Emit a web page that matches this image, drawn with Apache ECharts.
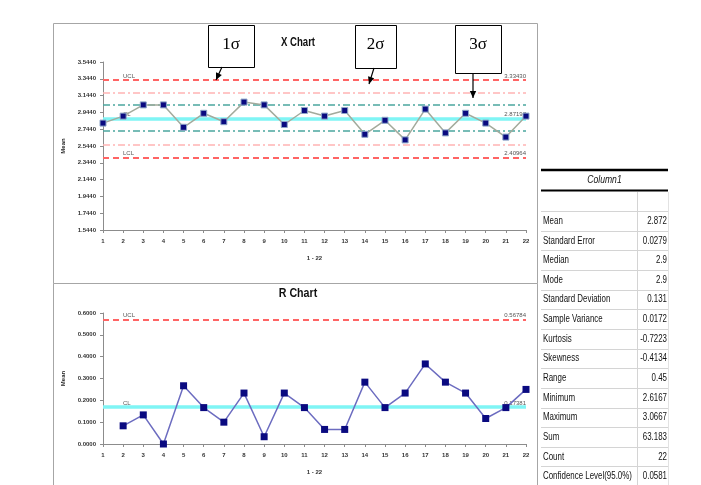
<!DOCTYPE html>
<html>
<head>
<meta charset="utf-8">
<script src="https://cdn.jsdelivr.net/npm/echarts@6/dist/echarts.min.js"></script>
<style>
  html, body { margin: 0; padding: 0; background: #ffffff; }
  #chart { width: 701px; height: 485px; }
</style>
</head>
<body>
<div id="chart"></div>
<script>
// Subgroup numbers on the horizontal axis
const samples = ['1','2','3','4','5','6','7','8','9','10','11','12','13','14','15','16','17','18','19','20','21','22'];

// Subgroup means (X chart)
const xMeans = [2.8167, 2.9, 3.0333, 3.0333, 2.7667, 2.9333, 2.8333, 3.0667, 3.0333, 2.8, 2.9667,
                2.9, 2.9667, 2.6833, 2.85, 2.6167, 2.9833, 2.7, 2.9333, 2.8167, 2.65, 2.9];

// Moving ranges (R chart); the first subgroup has none
const ranges = [null, 0.0833, 0.1333, 0, 0.2667, 0.1667, 0.1, 0.2333, 0.0333, 0.2333, 0.1667,
                0.0667, 0.0667, 0.2833, 0.1667, 0.2333, 0.3667, 0.2833, 0.2333, 0.1167, 0.1667, 0.25];

// Control limits
const xUCL = 3.33430, xCL = 2.87197, xLCL = 2.40964;
const rUCL = 0.56784, rCL = 0.17381;

// Value axis ranges
const xAxisMin = 1.544, xAxisMax = 3.544, xAxisStep = 0.2;
const rAxisMin = 0, rAxisMax = 0.6, rAxisStep = 0.1;

// Descriptive statistics table
const statHeader = 'Column1';
const statNames = ['Mean', 'Standard Error', 'Median', 'Mode', 'Standard Deviation', 'Sample Variance',
                   'Kurtosis', 'Skewness', 'Range', 'Minimum', 'Maximum', 'Sum', 'Count', 'Confidence Level(95.0%)'];
const statValues = ['2.872', '0.0279', '2.9', '2.9', '0.131', '0.0172', '-0.7223', '-0.4134', '0.45',
                    '2.6167', '3.0667', '63.183', '22', '0.0581'];

// Zone callouts
const zoneNotes = ['1σ', '2σ', '3σ'];

const sigma = (xUCL - xCL) / 3;

const chart = echarts.init(document.getElementById('chart'), null, { renderer: 'canvas' });

const tickFont = { fontSize: 6, color: '#333', fontWeight: 'bold', fontFamily: 'Liberation Sans' };

function limitLine(value, color, type, width) {
  return { yAxis: value, lineStyle: { color: color, type: type, width: width }, label: { show: false } };
}
function limitLabel(value, text, pos) {
  return {
    yAxis: value,
    lineStyle: { color: 'rgba(0,0,0,0)', width: 1 },
    label: {
      show: true, formatter: text, position: pos, distance: pos === 'insideStartTop' ? [20, 1] : [0, 1],
      fontSize: 6, color: '#555', fontFamily: 'Liberation Sans'
    }
  };
}

function xAxisCfg(gridIndex) {
  return {
    type: 'category', gridIndex: gridIndex, data: samples, boundaryGap: false,
    name: '1 - 22', nameLocation: 'middle', nameGap: 25,
    nameTextStyle: { fontSize: 6, color: '#333', fontWeight: 'bold', fontFamily: 'Liberation Sans' },
    axisLine: { lineStyle: { color: '#8c8c8c', width: 1 } },
    axisTick: { show: true, interval: 0, length: 3, alignWithLabel: true, lineStyle: { color: '#8c8c8c' } },
    axisLabel: Object.assign({ interval: 0, margin: 8 }, tickFont),
    splitLine: { show: false }
  };
}
function yAxisCfg(gridIndex, min, max, step) {
  return {
    type: 'value', gridIndex: gridIndex, min: min, max: max, interval: step,
    name: 'Mean', nameLocation: 'middle', nameGap: 31, nameRotate: 90,
    nameTextStyle: { fontSize: 6, color: '#222', fontWeight: 'bold', fontFamily: 'Liberation Sans' },
    axisLine: { show: true, lineStyle: { color: '#8c8c8c', width: 1 } },
    axisTick: { show: true, length: 3, lineStyle: { color: '#8c8c8c' } },
    axisLabel: Object.assign({ margin: 7, formatter: v => v.toFixed(4) }, tickFont),
    splitLine: { show: false }
  };
}

// condensed sans text (narrow face drawn by horizontal scaling)
function narrowText(x, y, text, opts) {
  return {
    type: 'text', x: x, y: y, scaleX: opts.scale || 0.8,
    style: {
      text: text, font: (opts.font || '11px "Liberation Sans"'), fill: opts.fill || '#111',
      textAlign: opts.align || 'left', textVerticalAlign: 'middle'
    },
    z: opts.z || 20
  };
}

// Callout boxes with arrows
const boxes = [
  { x: 208, y: 25, w: 46, h: 42, ax1: 222, ay1: 67, ax2: 216, ay2: 80 },
  { x: 355, y: 25, w: 41, h: 43, ax1: 374, ay1: 68, ax2: 369, ay2: 84 },
  { x: 455, y: 25, w: 46, h: 48, ax1: 473, ay1: 73, ax2: 473, ay2: 98 }
];
const graphics = [];
// chart panels
graphics.push({ type: 'rect', shape: { x: 53.5, y: 23.5, width: 484, height: 260 }, style: { fill: '#fff', stroke: '#a6a6a6', lineWidth: 1 }, z: -10 });
graphics.push({ type: 'rect', shape: { x: 53.5, y: 283.5, width: 484, height: 210 }, style: { fill: '#fff', stroke: '#a6a6a6', lineWidth: 1 }, z: -10 });

// chart titles
graphics.push(narrowText(298, 43, 'X Chart', { font: 'bold 12px "Liberation Sans"', align: 'center', scale: 0.8 }));
graphics.push(narrowText(298, 293, 'R Chart', { font: 'bold 13px "Liberation Sans"', align: 'center', scale: 0.82 }));

boxes.forEach((b, i) => {
  graphics.push({ type: 'rect', shape: { x: b.x + 0.5, y: b.y + 0.5, width: b.w, height: b.h }, style: { fill: '#fff', stroke: '#000', lineWidth: 1 }, z: 50 });
  graphics.push({ type: 'text', x: b.x + b.w / 2, y: b.y + 20, style: { text: zoneNotes[i], font: '17px "Liberation Serif"', fill: '#000', textAlign: 'center', textVerticalAlign: 'middle' }, z: 51 });
  graphics.push({ type: 'line', shape: { x1: b.ax1, y1: b.ay1, x2: b.ax2, y2: b.ay2 }, style: { stroke: '#000', lineWidth: 1.2 }, z: 51 });
  const ang = Math.atan2(b.ay2 - b.ay1, b.ax2 - b.ax1);
  const L = 7, W = 3.2;
  const bx = b.ax2 - L * Math.cos(ang), by = b.ay2 - L * Math.sin(ang);
  graphics.push({ type: 'polygon', shape: { points: [[b.ax2, b.ay2], [bx + W * Math.sin(ang), by - W * Math.cos(ang)], [bx - W * Math.sin(ang), by + W * Math.cos(ang)]] }, style: { fill: '#000' }, z: 51 });
});

// statistics table
const tLeft = 541, tRight = 668, tSplit = 637;
const rowTop = 211, rowH = 19.65;
graphics.push({ type: 'line', shape: { x1: tLeft, y1: 170, x2: tRight, y2: 170 }, style: { stroke: '#000', lineWidth: 2.5 } });
graphics.push(narrowText((tLeft + tRight) / 2, 180, statHeader, { font: 'italic 11px "Liberation Sans"', align: 'center', scale: 0.78 }));
graphics.push({ type: 'line', shape: { x1: tLeft, y1: 190.5, x2: tRight, y2: 190.5 }, style: { stroke: '#000', lineWidth: 2 } });
graphics.push({ type: 'line', shape: { x1: tSplit + 0.5, y1: 192, x2: tSplit + 0.5, y2: 490 }, style: { stroke: '#d4d4d4', lineWidth: 1 } });
graphics.push({ type: 'line', shape: { x1: tRight + 0.5, y1: 192, x2: tRight + 0.5, y2: 490 }, style: { stroke: '#e2e2e2', lineWidth: 1 } });
for (let i = 0; i <= statNames.length; i++) {
  const y = Math.round(rowTop + i * rowH) + 0.5;
  graphics.push({ type: 'line', shape: { x1: tLeft, y1: y, x2: tRight, y2: y }, style: { stroke: '#d4d4d4', lineWidth: 1 } });
}
statNames.forEach((name, i) => {
  const cy = rowTop + i * rowH + rowH / 2;
  graphics.push(narrowText(tLeft + 2, cy, name, { scale: 0.72 }));
  graphics.push(narrowText(tRight - 1, cy, statValues[i], { scale: 0.72, align: 'right' }));
});

const option = {
  backgroundColor: '#ffffff',
  animation: false,
  grid: [
    { left: 103, right: 175, top: 62, height: 168 },
    { left: 103, right: 175, top: 313, height: 131 }
  ],
  xAxis: [xAxisCfg(0), xAxisCfg(1)],
  yAxis: [yAxisCfg(0, xAxisMin, xAxisMax, xAxisStep), yAxisCfg(1, rAxisMin, rAxisMax, rAxisStep)],
  series: [
    {
      name: 'Mean', type: 'line', xAxisIndex: 0, yAxisIndex: 0, data: xMeans,
      symbol: 'rect', symbolSize: 6,
      itemStyle: { color: '#0a0a80', borderColor: '#8ea6c8', borderWidth: 1 },
      lineStyle: { color: '#a3aa9c', width: 1.5 },
      z: 10,
      markLine: {
        silent: true, symbol: 'none', animation: false,
        data: [
          limitLine(xCL, '#7ff5f5', 'solid', 3.5),
          limitLine(xCL + sigma, '#4ba79e', [7, 3, 2, 3], 1.5),
          limitLine(xCL - sigma, '#4ba79e', [7, 3, 2, 3], 1.5),
          limitLine(xCL + 2 * sigma, '#ffb4b4', [7, 3, 2, 3], 1.5),
          limitLine(xCL - 2 * sigma, '#ffb4b4', [7, 3, 2, 3], 1.5),
          limitLine(xUCL, '#ff6464', [6, 4], 2),
          limitLine(xLCL, '#ff6464', [6, 4], 2),
          limitLabel(xUCL, 'UCL', 'insideStartTop'),
          limitLabel(xCL, 'CL', 'insideStartTop'),
          limitLabel(xLCL, 'LCL', 'insideStartTop'),
          limitLabel(xUCL, xUCL.toFixed(5), 'insideEndTop'),
          limitLabel(xCL, xCL.toFixed(5), 'insideEndTop'),
          limitLabel(xLCL, xLCL.toFixed(5), 'insideEndTop')
        ]
      }
    },
    {
      name: 'Range', type: 'line', xAxisIndex: 1, yAxisIndex: 1, data: ranges,
      symbol: 'rect', symbolSize: 7,
      itemStyle: { color: '#0a0a80' },
      lineStyle: { color: '#6c6cc0', width: 1.5 },
      z: 10,
      markLine: {
        silent: true, symbol: 'none', animation: false,
        data: [
          limitLine(rCL, '#7ff5f5', 'solid', 3.5),
          limitLine(rUCL, '#ff6464', [6, 4], 2),
          limitLabel(rUCL, 'UCL', 'insideStartTop'),
          limitLabel(rCL, 'CL', 'insideStartTop'),
          limitLabel(rUCL, rUCL.toFixed(5), 'insideEndTop'),
          limitLabel(rCL, rCL.toFixed(5), 'insideEndTop')
        ]
      }
    }
  ],
  graphic: graphics
};
chart.setOption(option);
</script>
</body>
</html>
